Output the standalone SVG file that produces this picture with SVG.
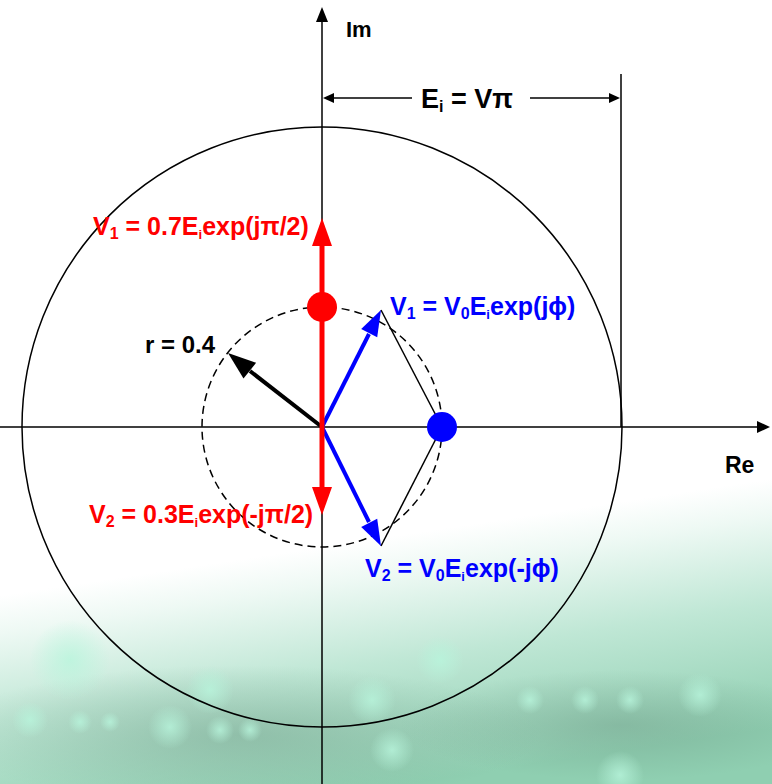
<svg xmlns="http://www.w3.org/2000/svg" width="772" height="784" viewBox="0 0 772 784">
<style>
.ln{stroke:#000;stroke-width:1.5;fill:none}
.t{font-family:"Liberation Sans",Arial,sans-serif;font-weight:bold;font-size:25px}
.red{fill:#ff0000}
.blue{fill:#0000ff}
.blk{fill:#000}
</style>
<defs>
<linearGradient id="bg" gradientUnits="userSpaceOnUse" x1="368" y1="540" x2="405" y2="784">
<stop offset="0" stop-color="#ffffff"/>
<stop offset="0.15" stop-color="#eef9f4"/>
<stop offset="0.5" stop-color="#bfe7d5"/>
<stop offset="1" stop-color="#8fcfb1"/>
</linearGradient>
<radialGradient id="dark" cx="0.5" cy="0.5" r="0.5">
<stop offset="0" stop-color="#6f9a86" stop-opacity="0.45"/>
<stop offset="1" stop-color="#6f9a86" stop-opacity="0"/>
</radialGradient>
<radialGradient id="glow" cx="0.5" cy="0.5" r="0.5">
<stop offset="0" stop-color="#b8f5dc" stop-opacity="0.8"/>
<stop offset="1" stop-color="#b8f5dc" stop-opacity="0"/>
</radialGradient>
</defs>
<g id="background">
<rect width="772" height="784" fill="url(#bg)"/>
<ellipse cx="240" cy="735" rx="300" ry="70" fill="url(#dark)"/>
<ellipse cx="620" cy="725" rx="220" ry="55" fill="url(#dark)"/>
<circle cx="30" cy="720" r="18" fill="url(#glow)"/>
<circle cx="80" cy="722" r="12" fill="url(#glow)"/>
<circle cx="110" cy="722" r="10" fill="url(#glow)"/>
<circle cx="170" cy="727" r="22" fill="url(#glow)"/>
<circle cx="220" cy="730" r="14" fill="url(#glow)"/>
<circle cx="250" cy="730" r="12" fill="url(#glow)"/>
<circle cx="210" cy="690" r="24" fill="url(#glow)"/>
<circle cx="70" cy="660" r="40" fill="url(#glow)"/>
<circle cx="372" cy="700" r="24" fill="url(#glow)"/>
<circle cx="440" cy="660" r="24" fill="url(#glow)"/>
<circle cx="392" cy="750" r="22" fill="url(#glow)"/>
<circle cx="530" cy="700" r="14" fill="url(#glow)"/>
<circle cx="585" cy="700" r="14" fill="url(#glow)"/>
<circle cx="630" cy="700" r="14" fill="url(#glow)"/>
<circle cx="700" cy="695" r="22" fill="url(#glow)"/>
<circle cx="620" cy="775" r="24" fill="url(#glow)"/>
</g>
<g id="circles">
<circle class="ln" cx="322" cy="427" r="300"/>
<circle class="ln" cx="322" cy="427" r="120" stroke-dasharray="8,5"/>
</g>
<g id="axes">
<line class="ln" x1="322" y1="784" x2="322" y2="20"/>
<polygon points="322,7 316,22 328,22" fill="#000"/>
<line class="ln" x1="0" y1="427" x2="760" y2="427"/>
<polygon points="770,427 757,421 757,433" fill="#000"/>
<line class="ln" x1="621" y1="74" x2="621" y2="427"/>
</g>
<g id="connectors">
<line class="ln" x1="333" y1="98" x2="412" y2="98"/>
<polygon points="323,98 334,93 334,103" fill="#000"/>
<line class="ln" x1="530" y1="98" x2="610" y2="98"/>
<polygon points="620,98 609,93 609,103" fill="#000"/>
<line x1="381" y1="310" x2="442" y2="427" stroke="#000" stroke-width="1.5"/>
<line x1="381" y1="546" x2="442" y2="427" stroke="#000" stroke-width="1.5"/>
<line x1="322" y1="427" x2="369" y2="334" stroke="#0000ff" stroke-width="4"/>
<polygon points="381,310 377.2,337.3 361.2,329.1" fill="#0000ff"/>
<line x1="322" y1="427" x2="369" y2="522" stroke="#0000ff" stroke-width="4"/>
<polygon points="381,546 377.2,518.7 361.2,526.9" fill="#0000ff"/>
<line x1="322" y1="427" x2="250" y2="371" stroke="#000" stroke-width="4"/>
<polygon points="228,353 256.1,362.8 243.5,378.4" fill="#000"/>
<line x1="322" y1="427" x2="322" y2="244" stroke="#ff0000" stroke-width="5"/>
<polygon points="322,218 312,246 332,246" fill="#ff0000"/>
<line x1="322" y1="427" x2="322" y2="490" stroke="#ff0000" stroke-width="5"/>
<polygon points="322,515 312,487 332,487" fill="#ff0000"/>
</g>
<g id="red-dot"><circle cx="322" cy="307" r="15" fill="#ff0000"/></g>
<g id="blue-dot"><circle cx="442" cy="427" r="15" fill="#0000ff"/></g>
<g id="labels">
<text class="t blk" x="346" y="37" style="font-size:22px">Im</text>
<text class="t blk" x="421" y="108" style="font-size:27px">E<tspan dy="4" style="font-size:16px">i</tspan><tspan dy="-4"> = V</tspan>π</text>
<text class="t blk" x="725" y="473" style="font-size:23px">Re</text>
<text class="t blk" x="145" y="353" style="font-size:24px">r = 0.4</text>
<text class="t red" x="93" y="235">V<tspan dy="4" style="font-size:16px">1</tspan><tspan dy="-4"> = 0.7E</tspan><tspan dy="4" style="font-size:13px">i</tspan><tspan dy="-4">exp(jπ/2)</tspan></text>
<text class="t red" x="89" y="523">V<tspan dy="4" style="font-size:16px">2</tspan><tspan dy="-4"> = 0.3E</tspan><tspan dy="4" style="font-size:13px">i</tspan><tspan dy="-4">exp(-jπ/2)</tspan></text>
<text class="t blue" x="390" y="315">V<tspan dy="4" style="font-size:16px">1</tspan><tspan dy="-4"> = V</tspan><tspan dy="4" style="font-size:16px">0</tspan><tspan dy="-4">E</tspan><tspan dy="4" style="font-size:13px">i</tspan><tspan dy="-4">exp(jϕ)</tspan></text>
<text class="t blue" x="365" y="577">V<tspan dy="4" style="font-size:16px">2</tspan><tspan dy="-4"> = V</tspan><tspan dy="4" style="font-size:16px">0</tspan><tspan dy="-4">E</tspan><tspan dy="4" style="font-size:13px">i</tspan><tspan dy="-4">exp(-jϕ)</tspan></text>
</g>
</svg>
